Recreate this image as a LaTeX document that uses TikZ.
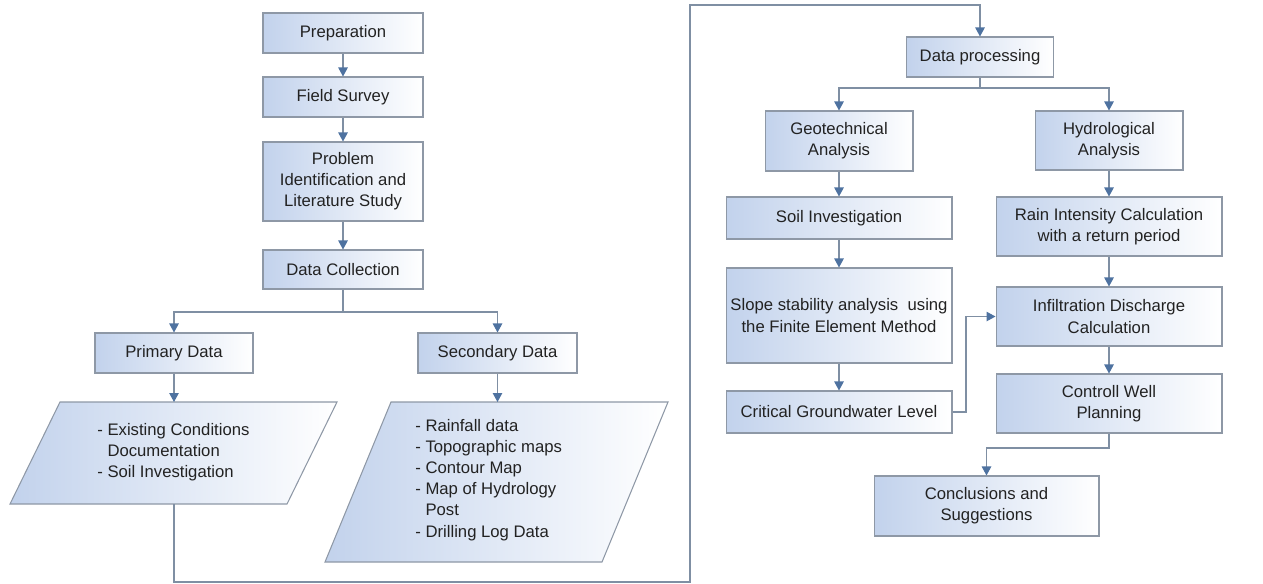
\documentclass[tikz,border=0pt]{standalone}
\usepackage{fontspec}
\setmainfont{Liberation Sans}
\usetikzlibrary{arrows.meta}
\definecolor{boxblue}{HTML}{C2D2EC}
\definecolor{boxline}{HTML}{8E98A6}
\definecolor{flowline}{HTML}{7F8FA3}
\definecolor{tipblue}{HTML}{4E72A0}
\definecolor{txt}{HTML}{222222}

\begin{document}
\begin{tikzpicture}[x=0.02cm, y=-0.02cm,
    every node/.style={font=\fontsize{9.5}{12}\selectfont, text=txt},
    stepbox/.style={draw=boxline, line width=0.6pt, left color=boxblue, right color=white, align=center, inner sep=0pt},
    datashape/.style={draw=boxline, line width=0.6pt, left color=boxblue, right color=white},
    listtext/.style={align=left, anchor=west, inner sep=0pt},
    flow/.style={draw=flowline, line width=0.6pt, -{Triangle[length=0.18cm, width=0.19cm, color=tipblue]}},
    link/.style={draw=flowline, line width=0.6pt}]
    \useasboundingbox (0,0) rectangle (1263,583);

    % Left column
    \node[stepbox, minimum width=3.2cm, minimum height=0.8cm] (prep) at (343,33) {Preparation};
    \node[stepbox, minimum width=3.2cm, minimum height=0.8cm] (survey) at (343,97) {Field Survey};
    \node[stepbox, minimum width=3.2cm, minimum height=1.58cm] (problem) at (343,181.5) {Problem\\Identification and\\Literature Study};
    \node[stepbox, minimum width=3.2cm, minimum height=0.78cm] (collect) at (343,269.5) {Data Collection};
    \node[stepbox, minimum width=3.16cm, minimum height=0.8cm] (primary) at (174,353) {Primary Data};
    \node[stepbox, minimum width=3.18cm, minimum height=0.8cm] (secondary) at (497.5,353) {Secondary Data};

    % Data lists
    \draw[datashape] (60,402) -- (337,402) -- (287,504) -- (10,504) -- cycle;
    \node[listtext] (primlist) at (97,452) {- Existing Conditions\\\hspace{0.61em}Documentation\\- Soil Investigation};
    \draw[datashape] (391,402) -- (668,402) -- (602,562) -- (325,562) -- cycle;
    \node[listtext] (seclist) at (415,480) {- Rainfall data\\- Topographic maps\\- Contour Map\\- Map of Hydrology\\\hspace{0.61em}Post\\- Drilling Log Data};
    \coordinate (primtop) at (174,402);
    \coordinate (sectop) at (497.5,402);
    \coordinate (primbot) at (174,504);
    \coordinate (split1) at (343,312);

    % Right column
    \node[stepbox, minimum width=2.94cm, minimum height=0.8cm] (process) at (980,57) {Data processing};
    \node[stepbox, minimum width=2.96cm, minimum height=1.2cm] (geo) at (839,141) {Geotechnical\\Analysis};
    \node[stepbox, minimum width=2.96cm, minimum height=1.18cm] (hydro) at (1109,140.5) {Hydrological\\Analysis};
    \node[stepbox, minimum width=4.52cm, minimum height=0.84cm] (soil) at (839,218) {Soil Investigation};
    \node[stepbox, minimum width=4.52cm, minimum height=1.18cm] (rain) at (1109,226.5) {Rain Intensity Calculation\\with a return period};
    \node[stepbox, minimum width=4.52cm, minimum height=1.9cm] (slope) at (839,315.5) {Slope stability analysis\ \ using\\the Finite Element Method};
    \node[stepbox, minimum width=4.52cm, minimum height=0.84cm] (critical) at (839,412) {Critical Groundwater Level};
    \node[stepbox, minimum width=4.52cm, minimum height=1.18cm] (infil) at (1109,316.5) {Infiltration Discharge\\Calculation};
    \node[stepbox, minimum width=4.52cm, minimum height=1.18cm] (well) at (1109,403.5) {Controll Well\\Planning};
    \node[stepbox, minimum width=4.5cm, minimum height=1.2cm] (concl) at (986.5,506) {Conclusions and\\Suggestions};
    \coordinate (split2) at (980,88);

    % Arrows
    \draw[flow] (prep) -- (survey);
    \draw[flow] (survey) -- (problem);
    \draw[flow] (problem) -- (collect);
    \draw[link] (collect.south) -- (split1);
    \draw[flow] (split1) -| (primary.north);
    \draw[flow] (split1) -| (secondary.north);
    \draw[flow] (primary.south) -- (primtop);
    \draw[flow] (secondary.south) -- (sectop);
    \draw[flow] (primbot) -- (174,582) -- (690,582) -- (690,5) -| (process.north);
    \draw[link] (process.south) -- (split2);
    \draw[flow] (split2) -| (geo.north);
    \draw[flow] (split2) -| (hydro.north);
    \draw[flow] (geo) -- (soil);
    \draw[flow] (soil) -- (slope);
    \draw[flow] (slope) -- (critical);
    \draw[flow] (hydro) -- (rain);
    \draw[flow] (rain) -- (infil);
    \draw[flow] (infil) -- (well);
    \draw[flow] (critical.east) -- (966,412) |- (infil.west);
    \draw[flow] (well.south) -- (1109,448) -| (concl.north);
\end{tikzpicture}
\end{document}
